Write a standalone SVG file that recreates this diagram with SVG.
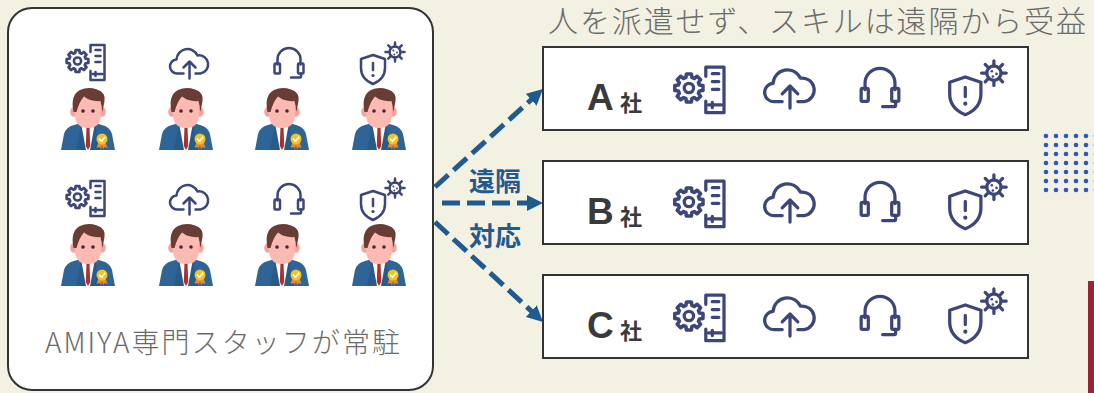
<svg xmlns="http://www.w3.org/2000/svg" width="1094" height="393" viewBox="0 0 1094 393">
  <style>
    .panel { fill: #ffffff; stroke: #333333; stroke-width: 2; }
    .company { fill: #ffffff; stroke: #333333; stroke-width: 2; }
    .ico { fill: none; stroke: #3D4679; stroke-width: 2.5; stroke-linecap: round; stroke-linejoin: round; }
    .ico-fill { fill: #3D4679; stroke: none; }
    .lead { font-family: "Noto Sans CJK JP", "Noto Sans", sans-serif; font-weight: 300; fill: #6B6B6B; }
    .letter { font-family: "Liberation Sans", "Noto Sans", sans-serif; font-weight: bold; font-size: 37px; fill: #3A3A3A; }
    .sha { font-family: "Noto Sans CJK JP", sans-serif; font-weight: bold; font-size: 22px; fill: #3A3A3A; }
    .link { fill: none; stroke: #1F5B8F; stroke-width: 5; stroke-dasharray: 18 7; }
    .link-label { font-family: "Noto Sans CJK JP", sans-serif; font-weight: bold; font-size: 26px; fill: #1F5B8F; }
    .dot { fill: #2B56C6; }
  </style>
  <defs>
    <marker id="head" markerUnits="userSpaceOnUse" markerWidth="16" markerHeight="16" refX="6" refY="8" orient="auto">
      <path d="M0,0 L16,8 L0,16 Z" fill="#1F5B8F"/>
    </marker>

    <!-- gear beside a server rack -->
    <g id="ic-gear">
      <path class="ico" d="M6,-9 V-16 H20 V19 H6 V10"/>
      <path class="ico" d="M11,-11 H16 M11,-5 H16 M11,1 H16 M8,13 H18 M11,11 V15"/>
      <path class="ico" transform="translate(-7,0) scale(1.1)" d="M7.306,-2.095 L9.848,-1.736 L9.848,1.736 L7.306,2.095 A7.6,7.6 0 0 1 6.647,3.684 L8.192,5.736 L5.736,8.192 L3.684,6.647 A7.6,7.6 0 0 1 2.095,7.306 L1.736,9.848 L-1.736,9.848 L-2.095,7.306 A7.6,7.6 0 0 1 -3.684,6.647 L-5.736,8.192 L-8.192,5.736 L-6.647,3.684 A7.6,7.6 0 0 1 -7.306,2.095 L-9.848,1.736 L-9.848,-1.736 L-7.306,-2.095 A7.6,7.6 0 0 1 -6.647,-3.684 L-8.192,-5.736 L-5.736,-8.192 L-3.684,-6.647 A7.6,7.6 0 0 1 -2.095,-7.306 L-1.736,-9.848 L1.736,-9.848 L2.095,-7.306 A7.6,7.6 0 0 1 3.684,-6.647 L5.736,-8.192 L8.192,-5.736 L6.647,-3.684 A7.6,7.6 0 0 1 7.306,-2.095 Z"/>
      <circle class="ico" cx="-7" cy="0" r="3.6"/>
    </g>

    <!-- cloud upload -->
    <g id="ic-cloud">
      <path class="ico" d="M-6,12 H-12 A7,7 0 0 1 -13,-2 A11,11 0 0 1 8,-6 A9,9 0 0 1 11,12 H6"/>
      <path class="ico" d="M0,17 V0 M-6,6 L0,0 L6,6"/>
    </g>

    <!-- headset -->
    <g id="ic-headset">
      <path class="ico" d="M-11.5,4 V-1 A11.5,11.5 0 0 1 11.5,-1 V4"/>
      <rect class="ico" x="-14.5" y="3" width="5.5" height="10" rx="1"/>
      <rect class="ico" x="9" y="3" width="5.5" height="10" rx="1"/>
      <path class="ico" d="M12,13 V16 Q12,17 11,17 H2"/>
    </g>

    <!-- shield with virus -->
    <g id="ic-shield">
      <path class="ico" d="M-9,-10 L3,-6 V3 Q3,14 -9,19 Q-21,14 -21,3 V-6 Z"/>
      <path class="ico" d="M-9,-2 V5"/>
      <circle class="ico-fill" cx="-9" cy="10.5" r="1.6"/>
      <g transform="translate(13,-13)">
        <circle class="ico" cx="0" cy="0" r="5.5" stroke-width="2"/>
        <path class="ico" stroke-width="2" d="M5.5,0 H9.5 M-5.5,0 H-9.5 M0,5.5 V9.5 M0,-5.5 V-9.5 M3.9,3.9 L6.7,6.7 M-3.9,3.9 L-6.7,6.7 M3.9,-3.9 L6.7,-6.7 M-3.9,-3.9 L-6.7,-6.7"/>
        <circle class="ico-fill" cx="-1.6" cy="-1.4" r="1"/>
        <circle class="ico-fill" cx="2" cy="0.6" r="1"/>
        <circle class="ico-fill" cx="-0.8" cy="2.6" r="1"/>
      </g>
    </g>

    <!-- staff member -->
    <g id="staff">
      <path d="M1,62 L4,46 Q6,39 14,37 L21,35 H35 L42,37 Q50,39 52,46 L55,62 Z" fill="#2F6497"/>
      <path d="M21,35 L27,62 H16 Q19,48 21,35 Z M35,35 L29,62 H40 Q37,48 35,35 Z" fill="#285A8A"/>
      <path d="M21,35 H35 L30,62 H26 Z" fill="#ffffff"/>
      <path d="M23,28 H33 V36 Q28,40 23,36 Z" fill="#EE9F98"/>
      <path d="M26.5,38 H29.5 L30.2,58 L28,62 L25.8,58 Z" fill="#B02F2C"/>
      <ellipse cx="14" cy="24" rx="3.8" ry="4.8" fill="#F4A49E"/>
      <ellipse cx="42" cy="24" rx="3.8" ry="4.8" fill="#F4A49E"/>
      <path d="M15,9 H41 V26 Q41,40 28,40 Q15,40 15,26 Z" fill="#FCBAB3"/>
      <path d="M13.5,24 Q10,7 20,2 Q28,-1.5 37,1.5 Q46,4.5 44.5,13 L42.5,24 L40.5,13 Q31,14 24,8.5 Q19,14 16.5,24 Z" fill="#6A3D34"/>
      <circle cx="23" cy="23" r="1.8" fill="#3B2B2B"/>
      <circle cx="33" cy="23" r="1.8" fill="#3B2B2B"/>
      <path d="M38.5,54 L36.5,60 L39.5,59 L41,61 L42.5,55 Z M45.5,54 L47.5,60 L44.5,59 L43,61 L41.5,55 Z" fill="#E98A2E"/>
      <circle cx="42" cy="51" r="5.5" fill="#F5C123"/>
      <path d="M39.4,51 L41.5,53.2 L44.8,49.2" fill="none" stroke="#ffffff" stroke-width="1.6" stroke-linecap="round" stroke-linejoin="round"/>
    </g>
  </defs>

  <rect width="1094" height="393" fill="#F3F1E2"/>

  <!-- heading -->
  <text class="lead" x="548" y="32" font-size="30" textLength="538" lengthAdjust="spacing">人を派遣せず、スキルは遠隔から受益</text>

  <!-- resident staff panel -->
  <g id="staff-room">
    <rect class="panel" x="8" y="8" width="425" height="382" rx="24"/>
    <use href="#ic-gear" x="84.5" y="61"/>
    <use href="#ic-cloud" x="189.5" y="61.5"/>
    <use href="#ic-headset" x="289" y="60.5"/>
    <use href="#ic-shield" x="382" y="65"/>
    <use href="#staff" x="60" y="88"/>
    <use href="#staff" x="158" y="88"/>
    <use href="#staff" x="254" y="88"/>
    <use href="#staff" x="351" y="88"/>
    <use href="#ic-gear" x="84.5" y="197"/>
    <use href="#ic-cloud" x="189.5" y="197.5"/>
    <use href="#ic-headset" x="289" y="196.5"/>
    <use href="#ic-shield" x="382" y="201"/>
    <use href="#staff" x="60" y="224"/>
    <use href="#staff" x="158" y="224"/>
    <use href="#staff" x="254" y="224"/>
    <use href="#staff" x="351" y="224"/>
    <text class="lead" x="45" y="353" font-size="28" textLength="355" lengthAdjust="spacing">AMIYA専門スタッフが常駐</text>
  </g>

  <!-- remote support links -->
  <g id="connectors">
    <path class="link" d="M435,187 L535.6,95.7" marker-end="url(#head)"/>
    <path class="link" d="M442,203 L533,203" marker-end="url(#head)"/>
    <path class="link" d="M435,222 L535.7,315.2" marker-end="url(#head)"/>
    <text class="link-label" x="495" y="191" text-anchor="middle">遠隔</text>
    <text class="link-label" x="495" y="246" text-anchor="middle">対応</text>
  </g>

  <!-- client companies -->
  <g id="company-a">
    <rect class="company" x="543" y="47" width="485" height="83"/>
    <text class="letter" x="587" y="110">A</text>
    <text class="sha" x="620" y="111">社</text>
    <use href="#ic-gear" transform="translate(698,88) scale(1.3)"/>
    <use href="#ic-cloud" transform="translate(790,86) scale(1.3)"/>
    <use href="#ic-headset" transform="translate(880,84.5) scale(1.3)"/>
    <use href="#ic-shield" transform="translate(977,90) scale(1.3)"/>
  </g>
  <g id="company-b">
    <rect class="company" x="543" y="161" width="485" height="83"/>
    <text class="letter" x="587" y="224">B</text>
    <text class="sha" x="620" y="225">社</text>
    <use href="#ic-gear" transform="translate(698,202) scale(1.3)"/>
    <use href="#ic-cloud" transform="translate(790,200) scale(1.3)"/>
    <use href="#ic-headset" transform="translate(880,198.5) scale(1.3)"/>
    <use href="#ic-shield" transform="translate(977,204) scale(1.3)"/>
  </g>
  <g id="company-c">
    <rect class="company" x="543" y="275" width="485" height="83"/>
    <text class="letter" x="587" y="338">C</text>
    <text class="sha" x="620" y="339">社</text>
    <use href="#ic-gear" transform="translate(698,316) scale(1.3)"/>
    <use href="#ic-cloud" transform="translate(790,314) scale(1.3)"/>
    <use href="#ic-headset" transform="translate(880,312.5) scale(1.3)"/>
    <use href="#ic-shield" transform="translate(977,318) scale(1.3)"/>
  </g>

  <!-- dot grid decoration -->
  <g id="dot-grid">
    <g class="dot">
      <circle cx="1046" cy="136" r="2.3"/><circle cx="1056" cy="136" r="2.3"/><circle cx="1066" cy="136" r="2.3"/><circle cx="1076" cy="136" r="2.3"/><circle cx="1086" cy="136" r="2.3"/><circle cx="1096" cy="136" r="2.3"/>
      <circle cx="1046" cy="145" r="2.3"/><circle cx="1056" cy="145" r="2.3"/><circle cx="1066" cy="145" r="2.3"/><circle cx="1076" cy="145" r="2.3"/><circle cx="1086" cy="145" r="2.3"/><circle cx="1096" cy="145" r="2.3"/>
      <circle cx="1046" cy="154" r="2.3"/><circle cx="1056" cy="154" r="2.3"/><circle cx="1066" cy="154" r="2.3"/><circle cx="1076" cy="154" r="2.3"/><circle cx="1086" cy="154" r="2.3"/><circle cx="1096" cy="154" r="2.3"/>
      <circle cx="1046" cy="163" r="2.3"/><circle cx="1056" cy="163" r="2.3"/><circle cx="1066" cy="163" r="2.3"/><circle cx="1076" cy="163" r="2.3"/><circle cx="1086" cy="163" r="2.3"/><circle cx="1096" cy="163" r="2.3"/>
      <circle cx="1046" cy="172" r="2.3"/><circle cx="1056" cy="172" r="2.3"/><circle cx="1066" cy="172" r="2.3"/><circle cx="1076" cy="172" r="2.3"/><circle cx="1086" cy="172" r="2.3"/><circle cx="1096" cy="172" r="2.3"/>
      <circle cx="1046" cy="181" r="2.3"/><circle cx="1056" cy="181" r="2.3"/><circle cx="1066" cy="181" r="2.3"/><circle cx="1076" cy="181" r="2.3"/><circle cx="1086" cy="181" r="2.3"/><circle cx="1096" cy="181" r="2.3"/>
      <circle cx="1046" cy="190" r="2.3"/><circle cx="1056" cy="190" r="2.3"/><circle cx="1066" cy="190" r="2.3"/><circle cx="1076" cy="190" r="2.3"/><circle cx="1086" cy="190" r="2.3"/><circle cx="1096" cy="190" r="2.3"/>
    </g>
  </g>

  <!-- accent bar -->
  <rect x="1088" y="281" width="6" height="112" fill="#9B2335"/>
</svg>
